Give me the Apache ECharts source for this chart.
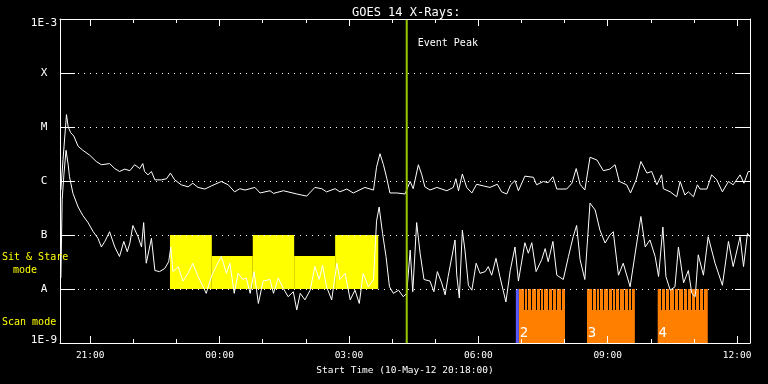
<!DOCTYPE html>
<html><head><meta charset="utf-8">
<script src="https://cdn.jsdelivr.net/npm/echarts@6/dist/echarts.min.js"></script>
<style>html,body{margin:0;padding:0;background:#000}#c{width:768px;height:384px}</style>
</head><body><div id="c"></div>
<script>
// Times are decimal hours since 00:00 on 10-May-12; fluxes in W/m^2
const longTimes = [20.32,20.37,20.45,20.49,20.55,20.62,20.72,20.83,20.99,21.14,21.26,21.45,21.57,21.68,21.80,21.92,22.03,22.15,22.22,22.26,22.34,22.42,22.50,22.65,22.77,22.86,22.96,23.11,23.27,23.38,23.50,23.66,23.81,24.04,24.20,24.35,24.47,24.59,24.82,24.94,25.17,25.25,25.48,25.79,26.02,26.21,26.37,26.48,26.68,26.79,26.95,27.10,27.37,27.57,27.64,27.72,27.80,27.88,27.95,28.11,28.30,28.42,28.49,28.61,28.69,28.76,28.88,29.04,29.27,29.42,29.48,29.54,29.63,29.73,29.85,29.96,30.12,30.27,30.44,30.54,30.66,30.75,30.85,30.93,31.08,31.28,31.35,31.51,31.62,31.73,31.82,32.05,32.17,32.27,32.36,32.47,32.59,32.75,32.90,33.05,33.17,33.27,33.44,33.53,33.66,33.77,33.91,34.02,34.14,34.25,34.29,34.45,34.60,34.68,34.79,34.87,34.99,35.08,35.14,35.30,35.41,35.53,35.66,35.80,35.91,36.07,36.16,36.26,36.30];
const longFlux = [6.8e-7,2.5e-6,1.7e-5,1.0e-5,7.8e-6,6.8e-6,4.4e-6,3.7e-6,3.0e-6,2.3e-6,2.0e-6,2.1e-6,1.7e-6,1.5e-6,1.66e-6,1.55e-6,2.0e-6,1.7e-6,2.1e-6,1.5e-6,1.3e-6,1.5e-6,1.05e-6,1.05e-6,1.1e-6,1.4e-6,1.05e-6,8.5e-7,7.8e-7,9.1e-7,7.6e-7,7.1e-7,8.1e-7,9.8e-7,8.5e-7,6.3e-7,7.2e-7,6.8e-7,7.6e-7,6.0e-7,6.6e-7,5.9e-7,6.6e-7,5.75e-7,5.25e-7,7.6e-7,7.2e-7,6.3e-7,7.2e-7,6.3e-7,7.1e-7,6.0e-7,7.6e-7,6.8e-7,1.8e-6,3.2e-6,2.0e-6,1.1e-6,6.0e-7,6.0e-7,5.75e-7,9.8e-7,7.2e-7,2.0e-6,1.3e-6,7.8e-7,6.8e-7,7.6e-7,6.6e-7,7.6e-7,1.1e-6,6.6e-7,1.35e-6,7.6e-7,6.0e-7,8.7e-7,8.1e-7,7.6e-7,8.7e-7,6.3e-7,5.75e-7,8.5e-7,1.02e-6,6.6e-7,1.23e-6,1.17e-6,8.5e-7,9.8e-7,9.3e-7,1.2e-6,7.1e-7,7.1e-7,9.1e-7,1.7e-6,8.7e-7,6.8e-7,2.75e-6,2.45e-6,1.55e-6,1.66e-6,2.0e-6,9.8e-7,8.5e-7,6.0e-7,1.05e-6,2.3e-6,1.4e-6,1.5e-6,8.5e-7,1.3e-6,7.2e-7,6.3e-7,5.1e-7,9.8e-7,5.5e-7,6.3e-7,5.1e-7,8.5e-7,7.1e-7,7.1e-7,1.3e-6,1.05e-6,6.3e-7,9.8e-7,8.5e-7,1.3e-6,9.1e-7,1.5e-6,1.5e-6];
const shortTimes = [20.32,20.35,20.39,20.44,20.49,20.52,20.60,20.72,20.83,20.95,21.07,21.18,21.26,21.34,21.45,21.57,21.68,21.78,21.86,21.92,21.99,22.11,22.19,22.24,22.30,22.42,22.50,22.61,22.73,22.82,22.87,22.92,23.04,23.15,23.27,23.38,23.50,23.62,23.69,23.81,23.92,24.04,24.16,24.24,24.34,24.43,24.54,24.62,24.71,24.80,24.90,25.01,25.17,25.25,25.36,25.48,25.59,25.71,25.79,25.87,25.98,26.10,26.21,26.31,26.39,26.48,26.60,26.72,26.79,26.91,27.03,27.14,27.24,27.33,27.45,27.57,27.64,27.70,27.78,27.86,27.94,28.03,28.15,28.26,28.34,28.42,28.48,28.57,28.65,28.74,28.88,28.97,29.05,29.15,29.23,29.30,29.46,29.50,29.56,29.63,29.69,29.77,29.85,29.95,30.04,30.16,30.23,30.31,30.41,30.50,30.64,30.74,30.85,30.93,31.08,31.16,31.24,31.34,31.47,31.55,31.62,31.73,31.82,31.97,32.09,32.20,32.28,32.36,32.47,32.59,32.71,32.82,32.94,33.05,33.13,33.25,33.36,33.52,33.66,33.77,33.87,33.98,34.10,34.18,34.28,34.35,34.45,34.56,34.64,34.76,34.87,34.95,35.03,35.10,35.22,35.33,35.49,35.66,35.80,35.91,36.07,36.15,36.24,36.30];
const shortFlux = [1.6e-8,4.5e-7,1.3e-6,3.7e-6,2.0e-6,1.2e-6,5.9e-7,3.3e-7,2.3e-7,1.7e-7,1.15e-7,8.7e-8,6.0e-8,7.6e-8,1.15e-7,6.0e-8,4.0e-8,7.6e-8,4.9e-8,7.1e-8,1.5e-7,9.3e-8,6.0e-8,1.7e-7,3.0e-8,8.7e-8,2.2e-8,2.1e-8,2.4e-8,3.2e-8,6.0e-8,2.1e-8,2.6e-8,1.4e-8,1.95e-8,3.0e-8,1.7e-8,1.1e-8,8.3e-9,1.7e-8,2.6e-8,4.0e-8,1.95e-8,3.0e-8,8.3e-9,1.95e-8,1.5e-8,1.6e-8,8.3e-9,2.1e-8,5.4e-9,1.4e-8,1.5e-8,8.3e-9,1.6e-8,1.02e-8,7.2e-9,8.9e-9,4.1e-9,8.3e-9,6.3e-9,9.5e-9,2.6e-8,1.5e-8,2.75e-8,1.1e-8,6.3e-9,3.0e-8,1.5e-8,1.95e-8,6.3e-9,9.5e-9,5.4e-9,1.95e-8,1.1e-8,1.5e-8,1.8e-7,3.3e-7,1.07e-7,4.0e-8,1.1e-8,8.3e-9,9.5e-9,7.2e-9,8.3e-9,5.25e-8,8.9e-9,1.7e-7,4.6e-8,1.5e-8,1.4e-8,8.9e-9,2.1e-8,1.3e-8,7.8e-9,1.7e-8,8.1e-8,1.8e-8,6.8e-9,1.23e-7,5.25e-8,1.17e-8,9.5e-9,3.0e-8,1.95e-8,2.1e-8,2.6e-8,1.8e-8,3.7e-8,1.7e-8,5.75e-9,2.2e-8,6.0e-8,1.4e-8,7.2e-8,4.6e-8,7.2e-8,2.1e-8,3.5e-8,5.6e-8,3.2e-8,7.6e-8,1.8e-8,1.5e-8,4.0e-8,9.3e-8,1.5e-7,3.5e-8,1.5e-8,3.9e-7,2.9e-7,1.23e-7,7.1e-8,1.0e-7,1.15e-7,1.8e-8,3.0e-8,1.1e-8,6.0e-8,2.2e-7,6.0e-8,8.1e-8,4.0e-8,1.7e-8,1.4e-7,1.7e-8,9.5e-9,1.1e-8,6.0e-8,1.3e-8,2.2e-8,8.3e-9,7.2e-9,4.3e-8,1.8e-8,9.3e-8,3.0e-8,1.17e-8,7.6e-8,2.6e-8,9.3e-8,2.6e-8,1.07e-7,9.3e-8];

const majorTickHours = [21, 24, 27, 30, 33, 36];
const tickLabels = ['21:00', '00:00', '03:00', '06:00', '09:00', '12:00'];
const minorTickHours = [21,22,23,24,25,26,27,28,29,30,31,32,33,34,35,36];
const yTickLabels = ['1E-9', 'A', 'B', 'C', 'M', 'X', '1E-3'];

// Sit & stare observing blocks
const sitStareStart = [22.85, 23.82, 24.77, 25.73, 26.68];
const sitStareEnd = [23.82, 24.77, 25.73, 26.68, 27.68];
const sitStareTop = [1e-7, 4.1e-8, 1e-7, 4.1e-8, 1e-7];
const sitStareBottom = 1e-8;
// Scan mode blocks
const scanStart = [30.94, 32.52, 34.16];
const scanEnd = [32.01, 33.63, 35.32];
const scanLabels = ['2', '3', '4'];
const scanTop = 1e-8;
const scanSolidTop = 4.1e-9;
const rasterGaps = [31.05,31.14,31.23,31.33,31.42,31.51,31.61,31.71,31.81,31.92,
  32.63,32.72,32.81,32.90,33.00,33.09,33.18,33.27,33.37,33.46,33.55,
  34.24,34.33,34.42,34.53,34.63,34.74,34.84,34.93,35.03,35.12,35.21];
const calibStart = 30.87, calibEnd = 30.94;
const eventPeakTime = 28.34;
const eventLabel = 'Event Peak';

const FONT = 'DejaVu Sans Mono';
const X_MIN = 20.3, X_MAX = 36.3;
const Y_MIN = 1e-9, Y_MAX = 1e-3;

const chart = echarts.init(document.getElementById('c'), null, {renderer: 'canvas'});

function xAxisBase(pos, tickVals, len, showLine) {
  return {
    type: 'value', min: X_MIN, max: X_MAX, position: pos, z: 10,
    axisLine: {show: showLine, onZero: false, lineStyle: {color: '#fff', width: 1}},
    axisTick: {show: true, inside: true, length: len, customValues: tickVals, lineStyle: {color: '#fff', width: 1}},
    axisLabel: {show: false},
    splitLine: {show: false}
  };
}
const xMain = xAxisBase('bottom', majorTickHours, 7, true);
xMain.axisLabel = {
  show: true, customValues: majorTickHours,
  formatter: v => tickLabels[majorTickHours.indexOf(v)],
  color: '#fff', fontFamily: FONT, fontSize: 9.5, margin: 8
};
xMain.name = 'Start Time (10-May-12 20:18:00)';
xMain.nameLocation = 'middle';
xMain.nameGap = 21;
xMain.nameTextStyle = {color: '#fff', fontFamily: FONT, fontSize: 9.5};

const rectRender = (color) => (params, api) => {
  const p0 = api.coord([api.value(0), api.value(3)]);
  const p1 = api.coord([api.value(1), api.value(2)]);
  return {type: 'rect', shape: {x: p0[0], y: p0[1], width: p1[0] - p0[0], height: p1[1] - p0[1]}, style: {fill: color}};
};

const option = {
  backgroundColor: '#000',
  animation: false,
  title: {text: 'GOES 14 X-Rays:', left: 347, top: 2, textStyle: {color: '#fff', fontFamily: FONT, fontSize: 12, fontWeight: 'normal'}},
  grid: {left: 60, right: 18, top: 19, bottom: 41},
  xAxis: [xMain, xAxisBase('bottom', minorTickHours, 4, false), xAxisBase('top', majorTickHours, 7, true), xAxisBase('top', minorTickHours, 4, false)],
  yAxis: [
    {
      type: 'log', logBase: 10, min: Y_MIN, max: Y_MAX, position: 'left', z: 10,
      axisLine: {show: true, lineStyle: {color: '#fff', width: 1}},
      axisTick: {show: true, inside: true, length: 15, lineStyle: {color: '#fff'}},
      axisLabel: {
        formatter: v => {
          const i = Math.round(Math.log10(v)) + 9;
          if (i === yTickLabels.length - 1) return '{top|' + yTickLabels[i] + '}';
          if (i === 0) return '{bot|' + yTickLabels[i] + '}';
          return yTickLabels[i];
        },
        rich: {
          top: {padding: [9, 0, 0, 0], color: '#fff', fontFamily: FONT, fontSize: 11},
          bot: {padding: [0, 0, 5, 0], color: '#fff', fontFamily: FONT, fontSize: 11}
        },
        color: '#fff', fontFamily: FONT, fontSize: 11, align: 'center', margin: 16
      },
      splitLine: {show: true, lineStyle: {color: '#fff', width: 1, type: [1, 5]}}
    },
    {
      type: 'log', logBase: 10, min: Y_MIN, max: Y_MAX, position: 'right', z: 10,
      axisLine: {show: true, lineStyle: {color: '#fff', width: 1}},
      axisTick: {show: true, inside: true, length: 15, lineStyle: {color: '#fff'}},
      axisLabel: {show: false}, splitLine: {show: false}
    }
  ],
  graphic: [
    {type: 'text', left: 2, top: 252, z: 20, style: {text: 'Sit & Stare', fill: '#ffff00', font: '10px "DejaVu Sans Mono"'}},
    {type: 'text', left: 13, top: 265, z: 20, style: {text: 'mode', fill: '#ffff00', font: '10px "DejaVu Sans Mono"'}},
    {type: 'text', left: 2, top: 317, z: 20, style: {text: 'Scan mode', fill: '#ffff00', font: '10px "DejaVu Sans Mono"'}}
  ],
  series: [
    {
      type: 'custom', name: 'sitstare', z: 1, silent: true,
      encode: {x: [0, 1], y: [2, 3]},
      data: sitStareStart.map((s, i) => [s, sitStareEnd[i], sitStareBottom, sitStareTop[i]]),
      renderItem: rectRender('#ffff00')
    },
    {
      type: 'custom', name: 'scan', z: 1, silent: true,
      encode: {x: [0, 1], y: [2, 3]},
      data: scanStart.map((s, i) => [s, scanEnd[i], Y_MIN, scanTop]),
      renderItem: rectRender('#ff8000')
    },
    {
      type: 'custom', name: 'gaps', z: 1.5, silent: true,
      encode: {x: 0, y: [1, 2]},
      data: rasterGaps.map(t => [t, scanSolidTop, scanTop]),
      renderItem: (params, api) => {
        const a = api.coord([api.value(0), api.value(2)]);
        const b = api.coord([api.value(0), api.value(1)]);
        return {type: 'rect', shape: {x: Math.round(a[0]), y: a[1], width: 1, height: b[1] - a[1]}, style: {fill: '#000'}};
      }
    },
    {
      type: 'custom', name: 'calib', z: 1.5, silent: true,
      encode: {x: [0, 1], y: [2, 3]},
      data: [[calibStart, calibEnd, Y_MIN, scanTop]],
      renderItem: rectRender('#5a5aff')
    },
    {
      type: 'line', name: 'long', z: 3, showSymbol: false, symbol: 'none', silent: true,
      lineStyle: {color: '#fff', width: 1}, itemStyle: {color: '#fff'},
      data: longTimes.map((t, i) => [t, longFlux[i]])
    },
    {
      type: 'line', name: 'short', z: 3, showSymbol: false, symbol: 'none', silent: true,
      lineStyle: {color: '#fff', width: 1}, itemStyle: {color: '#fff'},
      data: shortTimes.map((t, i) => [t, shortFlux[i]])
    },
    {
      type: 'custom', name: 'scanLabels', z: 4, silent: true,
      encode: {x: 0, y: 1},
      data: scanStart.map(s => [s, Y_MIN]),
      renderItem: (params, api) => {
        const c = api.coord([api.value(0), api.value(1)]);
        return {type: 'text', x: c[0] + 5, y: c[1] - 10, style: {text: scanLabels[params.dataIndex], fill: '#fff', font: '14px "DejaVu Sans Mono"', textAlign: 'center', textVerticalAlign: 'middle'}};
      }
    },
    {
      type: 'custom', name: 'event', z: 5, silent: true,
      encode: {x: 0, y: [1, 2]},
      data: [[eventPeakTime, Y_MIN, Y_MAX]],
      renderItem: (params, api) => {
        const b = api.coord([api.value(0), api.value(1)]);
        const t = api.coord([api.value(0), api.value(2)]);
        return {type: 'group', children: [
          {type: 'line', shape: {x1: b[0], y1: b[1], x2: t[0], y2: t[1]}, style: {stroke: '#9ac800', lineWidth: 2}},
          {type: 'text', x: t[0] + 11, y: t[1] + 24, style: {text: eventLabel, fill: '#fff', font: '10px "DejaVu Sans Mono"', textVerticalAlign: 'middle'}}
        ]};
      }
    }
  ]
};
chart.setOption(option);
</script>
</body></html>
